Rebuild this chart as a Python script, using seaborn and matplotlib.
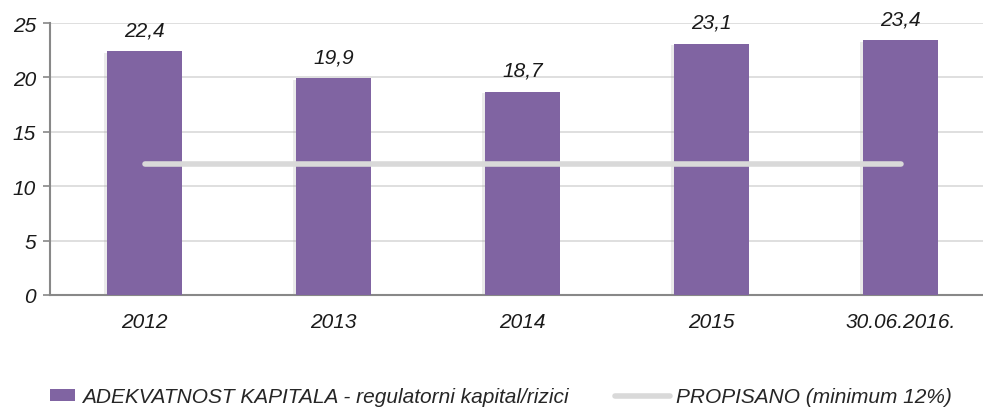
import matplotlib
matplotlib.use("Agg")
import matplotlib.pyplot as plt
import matplotlib.patheffects as pe
from matplotlib.patches import Patch
from matplotlib.lines import Line2D
import seaborn as sns
import pandas as pd
import numpy as np

categories = ["2012", "2013", "2014", "2015", "30.06.2016."]
values = [22.4, 19.9, 18.7, 23.1, 23.4]
value_labels = ["22,4", "19,9", "18,7", "23,1", "23,4"]
minimum = [12, 12, 12, 12, 12]
yticks = [0, 5, 10, 15, 20, 25]

sns.set_theme(style="white")
plt.rcParams['font.family'] = ['Liberation Sans', 'DejaVu Sans']

FS = 15
TXT = "#1a1a1a"
fig = plt.figure(figsize=(9.83, 4.10), dpi=100)
ax = fig.add_axes([50/983, 114/410, 945/983, 272/410])

df = pd.DataFrame({"cat": categories, "val": values})
sns.barplot(data=df, x="cat", y="val", color="#8064A2", saturation=1, width=0.40,
            linewidth=0, edgecolor="none", ax=ax, zorder=3)
for p in ax.patches:
    p.set_path_effects([pe.SimplePatchShadow(offset=(-2, -1), shadow_rgbFace="#999999", alpha=0.2), pe.Normal()])

ax.plot(range(len(categories)), minimum, color="#d9d9d9", lw=4, solid_capstyle="round", zorder=4)

for i, (v, lab) in enumerate(zip(values, value_labels)):
    ax.text(i, v + 2.0, lab, ha="center", va="center", fontsize=FS, style="italic", color=TXT)

ax.set_ylim(0, 25)
ax.set_xlim(-0.5, len(categories) - 0.5)
ax.set_yticks(yticks)
ax.set_yticklabels([str(t) for t in yticks], fontsize=FS, style="italic", color=TXT)
ax.set_xticks(range(len(categories)))
ax.set_xticklabels(categories, fontsize=FS, style="italic", color=TXT)
ax.tick_params(axis="x", which="major", length=0, pad=12)
ax.set_xticks(np.arange(0.5, len(categories) - 0.5, 1), minor=True)
ax.tick_params(axis="x", which="minor", length=5, color="#888888", width=1.2, direction="out")
ax.tick_params(axis="y", length=5, color="#888888", width=1.2, direction="out", pad=5, left=True)
ax.set_xlabel("")
ax.set_ylabel("")
ax.yaxis.grid(True, color="#d9d9d9", lw=1.2, zorder=0)
ax.set_axisbelow(True)
for s in ["top", "right"]:
    ax.spines[s].set_visible(False)
for s in ["left", "bottom"]:
    ax.spines[s].set_color("#888888")
    ax.spines[s].set_linewidth(1.5)

h1 = Patch(facecolor="#8064A2", edgecolor="none")
h2 = Line2D([0], [0], color="#d9d9d9", lw=4, solid_capstyle="round")
fs_px = FS * 100 / 72
leg1 = fig.legend([h1], ["ADEKVATNOST KAPITALA - regulatorni kapital/rizici"],
                  loc="center left", bbox_to_anchor=(50/983, 12/410), frameon=False,
                  prop={"style": "italic", "size": FS}, borderpad=0, borderaxespad=0,
                  handlelength=25/fs_px, handleheight=0.5, handletextpad=7/fs_px)
leg2 = fig.legend([h2], ["PROPISANO (minimum 12%)"],
                  loc="center left", bbox_to_anchor=(615/983, 12/410), frameon=False,
                  prop={"style": "italic", "size": FS}, borderpad=0, borderaxespad=0,
                  handlelength=55/fs_px, handleheight=0.5, handletextpad=6/fs_px)

fig.savefig("out.png", dpi=100)
